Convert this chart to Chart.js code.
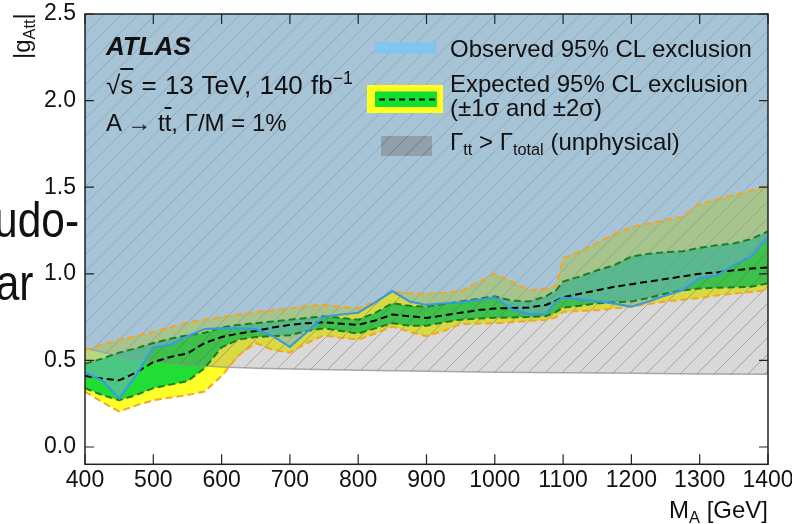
<!DOCTYPE html>
<html><head><meta charset="utf-8">
<script src="https://cdn.jsdelivr.net/npm/chart.js@4.4.1/dist/chart.umd.min.js"></script>
<style>
html,body{margin:0;padding:0;background:#fff;}
#wrap{position:relative;width:792px;height:524px;overflow:hidden;font-family:"Liberation Sans",Arial,Helvetica,sans-serif;color:#111;}
canvas{position:absolute;left:0;top:0;}
.t{position:absolute;white-space:nowrap;line-height:1;}
sub{font-size:0.68em;vertical-align:-0.28em;line-height:0;}
sup{font-size:0.68em;vertical-align:0.55em;line-height:0;}
.ov{text-decoration:overline;}
#udo,#ar{transform:scaleX(0.85);transform-origin:100% 50%;}
</style></head><body>
<div id="wrap">
<canvas id="c" width="792" height="524"></canvas>
<div class="t" id="atlas" style="font-weight:bold;font-style:italic">ATLAS</div>
<div class="t" id="sqs" style="word-spacing:1px">√<span class="ov">s</span> = 13 TeV, 140 fb<sup>−1</sup></div>
<div class="t" id="proc">A → t<span class="ov">t</span>, Γ/M = 1%</div>
<div class="t" id="lg1">Observed 95% CL exclusion</div>
<div class="t" id="lg2">Expected 95% CL exclusion</div>
<div class="t" id="lg3">(±1σ and ±2σ)</div>
<div class="t" id="lg4">Γ<sub>tt</sub> &gt; Γ<sub>total</sub> (unphysical)</div>
<div class="t" id="ytitle" style="transform-origin:0 0;transform:rotate(-90deg)">|g<sub>Att</sub>|</div>
<div class="t" id="xtitle">M<sub>A</sub> [GeV]</div>
<div class="t" id="udo">udo-</div>
<div class="t" id="ar">ar</div>
</div>
<script>
// ---- data ----
const masses   = [400,425,450,475,500,525,550,575,600,625,650,675,700,725,750,775,800,825,850,875,900,925,950,975,1000,1025,1050,1075,1090,1100,1125,1150,1175,1200,1225,1250,1275,1300,1325,1350,1375,1400];
const observed = [0.43,0.385,0.28,0.415,0.575,0.59,0.64,0.68,0.685,0.685,0.68,0.64,0.578,0.665,0.752,0.765,0.775,0.835,0.90,0.84,0.82,0.83,0.835,0.848,0.864,0.795,0.767,0.768,0.84,0.862,0.852,0.842,0.828,0.81,0.84,0.875,0.905,0.975,0.99,1.05,1.10,1.21];
const expected = [0.41,0.395,0.385,0.43,0.49,0.52,0.54,0.60,0.635,0.655,0.67,0.69,0.705,0.715,0.72,0.712,0.705,0.73,0.765,0.755,0.745,0.76,0.775,0.79,0.80,0.802,0.806,0.82,0.845,0.865,0.885,0.905,0.925,0.94,0.955,0.97,0.985,1.0,1.008,1.02,1.03,1.037];
const plus1    = [0.48,0.51,0.545,0.57,0.60,0.625,0.645,0.66,0.69,0.705,0.715,0.725,0.735,0.745,0.755,0.745,0.735,0.775,0.83,0.815,0.81,0.825,0.84,0.855,0.87,0.845,0.84,0.87,0.905,0.955,0.985,1.02,1.05,1.10,1.115,1.125,1.13,1.15,1.165,1.175,1.20,1.245];
const minus1   = [0.34,0.30,0.27,0.30,0.34,0.36,0.38,0.455,0.575,0.62,0.635,0.64,0.645,0.67,0.685,0.67,0.655,0.685,0.715,0.70,0.70,0.72,0.735,0.742,0.746,0.748,0.75,0.755,0.78,0.805,0.815,0.83,0.835,0.84,0.86,0.885,0.905,0.915,0.92,0.922,0.925,0.945];
const plus2    = [0.56,0.59,0.62,0.64,0.665,0.69,0.72,0.735,0.75,0.765,0.78,0.79,0.80,0.815,0.82,0.81,0.80,0.84,0.895,0.89,0.885,0.89,0.90,0.95,1.0,0.955,0.905,0.915,0.93,1.09,1.13,1.18,1.23,1.27,1.29,1.31,1.33,1.40,1.43,1.455,1.48,1.51];
const minus2   = [0.32,0.26,0.205,0.24,0.27,0.285,0.30,0.32,0.41,0.53,0.60,0.56,0.545,0.60,0.645,0.63,0.62,0.655,0.695,0.665,0.64,0.67,0.71,0.712,0.714,0.72,0.728,0.733,0.75,0.78,0.785,0.79,0.80,0.81,0.825,0.84,0.85,0.86,0.875,0.885,0.895,0.906];
const unphysMass  = [400,450,500,550,600,650,700,800,900,1000,1100,1200,1300,1400];
const unphysLimit = [0.57,0.525,0.495,0.475,0.462,0.455,0.45,0.443,0.437,0.432,0.428,0.425,0.422,0.42];
const xRange = [400, 1400];
const yRange = [-0.1, 2.5];
const xStep = 100, yStep = 0.5;

const FONT = '"Liberation Sans", Arial, Helvetica, sans-serif';
const pts = (xs, ys) => xs.map((x, i) => ({x: x, y: ys[i]}));
const ctx0 = document.getElementById('c').getContext('2d');

function makeHatch(color, s, lw) {
  const c = document.createElement('canvas'); c.width = s; c.height = s;
  const g = c.getContext('2d'); g.strokeStyle = color; g.lineWidth = lw;
  g.beginPath();
  g.moveTo(0, s); g.lineTo(s, 0);
  g.moveTo(-s/2, s/2); g.lineTo(s/2, -s/2);
  g.moveTo(s/2, s*1.5); g.lineTo(s*1.5, s/2);
  g.stroke();
  return ctx0.createPattern(c, 'repeat');
}
const hatch = makeHatch('rgba(90,90,90,0.4)', 17, 1);

const C_OBS_LINE = '#3a9ade', C_ORANGE = '#f5a524', C_DGREEN = '#1d7d1d';
const C_GREEN = '#22dd33', C_YELLOW = '#ffff2a';

const dashed = (lbl, data, color, order) => ({label: lbl, data: data, borderColor: color, borderWidth: 2, borderDash: [7, 4], fill: false, pointRadius: 0, order: order});

const datasets = [
  {label: 'Observed', data: pts(masses, observed), borderColor: C_OBS_LINE, borderWidth: 2.2, fill: false, pointRadius: 0, order: 0},
  dashed('Expected', pts(masses, expected), '#000', 1),
  dashed('+1sigma', pts(masses, plus1), C_DGREEN, 2),
  dashed('-1sigma', pts(masses, minus1), C_DGREEN, 2),
  dashed('+2sigma', pts(masses, plus2), C_ORANGE, 3),
  dashed('-2sigma', pts(masses, minus2), C_ORANGE, 3),
  {label: 'obsFill', data: pts(masses, observed), borderWidth: 0, backgroundColor: 'rgba(117,175,211,0.5)', fill: 'end', pointRadius: 0, order: 6},
  {label: 'hatch', data: pts(unphysMass, unphysLimit), borderWidth: 0, backgroundColor: hatch, fill: 'end', pointRadius: 0, order: 7},
  {label: 'unphys', data: pts(unphysMass, unphysLimit), borderColor: 'rgba(140,140,140,0.7)', borderWidth: 1.5, backgroundColor: 'rgba(128,128,128,0.3)', fill: 'end', pointRadius: 0, order: 8},
  {label: 'band1', data: pts(masses, plus1), borderWidth: 0, backgroundColor: C_GREEN, fill: 3, pointRadius: 0, order: 9},
  {label: 'band2', data: pts(masses, plus2), borderWidth: 0, backgroundColor: C_YELLOW, fill: 5, pointRadius: 0, order: 10}
];

const framePlugin = {
  id: 'frame',
  afterDatasetsDraw(chart) {
    const {ctx, chartArea: a, scales: {x, y}} = chart;
    ctx.save();
    ctx.strokeStyle = '#222'; ctx.lineWidth = 1.5;
    ctx.strokeRect(a.left, a.top, a.right - a.left, a.bottom - a.top);
    ctx.lineWidth = 1.2;
    ctx.beginPath();
    x.ticks.forEach(t => { const p = x.getPixelForValue(t.value);
      ctx.moveTo(p, a.bottom); ctx.lineTo(p, a.bottom - 10);
      ctx.moveTo(p, a.top); ctx.lineTo(p, a.top + 10); });
    y.ticks.forEach(t => { const p = y.getPixelForValue(t.value);
      ctx.moveTo(a.left, p); ctx.lineTo(a.left + 9, p);
      ctx.moveTo(a.right, p); ctx.lineTo(a.right - 9, p); });
    ctx.stroke();
    ctx.restore();
  },
  afterDraw(chart) {
    const ctx = chart.ctx;
    ctx.save();
    // legend swatches
    ctx.fillStyle = '#80c6ee'; ctx.fillRect(375, 42, 62, 12);
    ctx.fillStyle = '#ffff20'; ctx.fillRect(367, 85, 76, 28);
    ctx.fillStyle = '#10e030'; ctx.fillRect(375, 91.5, 62, 15.5);
    ctx.strokeStyle = '#000'; ctx.lineWidth = 2; ctx.setLineDash([6, 4]);
    ctx.beginPath(); ctx.moveTo(379, 99.5); ctx.lineTo(436, 99.5); ctx.stroke();
    ctx.setLineDash([]);
    ctx.fillStyle = 'rgba(120,120,120,0.45)'; ctx.fillRect(381, 136, 51, 20);
    ctx.fillStyle = hatch; ctx.fillRect(381, 136, 51, 20);
    ctx.restore();
  }
};

new Chart(document.getElementById('c'), {
  type: 'line',
  data: {datasets: datasets},
  plugins: [framePlugin],
  options: {
    responsive: false,
    animation: false,
    devicePixelRatio: 1,
    layout: {padding: {top: 14, right: 24, left: 0, bottom: 0}},
    elements: {line: {tension: 0}, point: {radius: 0}},
    plugins: {legend: {display: false}, tooltip: {enabled: false}, filler: {propagate: false}},
    scales: {
      x: {
        type: 'linear', min: xRange[0], max: xRange[1],
        grid: {display: false, drawTicks: false}, border: {display: false},
        ticks: {stepSize: xStep, callback: v => String(v), font: {size: 23, family: FONT}, color: '#111', padding: 3, maxRotation: 0, autoSkip: false},
        afterFit(s) { s.height = 59.7; s.paddingLeft = 0; s.paddingRight = 0; }
      },
      y: {
        type: 'linear', min: yRange[0], max: yRange[1],
        grid: {display: false, drawTicks: false}, border: {display: false},
        ticks: {stepSize: yStep, includeBounds: false, callback: v => Number(v).toFixed(1), font: {size: 23, family: FONT}, color: '#111', padding: 9},
        afterFit(s) { s.width = 85; s.paddingTop = 0; s.paddingBottom = 0; }
      }
    }
  }
});

// ---- text placement ----
function place(id, left, baseline, size, rightEdge) {
  const el = document.getElementById(id);
  el.style.fontSize = size + 'px';
  el.style.top = (baseline - 0.8465 * size) + 'px';
  if (rightEdge !== undefined) el.style.right = (792 - rightEdge) + 'px';
  else el.style.left = left + 'px';
}
place('atlas', 106, 55, 26);
place('sqs', 106, 94, 26);
place('proc', 106, 131, 24);
place('lg1', 450, 57, 24);
place('lg2', 450, 92.5, 24);
place('lg3', 450, 116.5, 24);
place('lg4', 450, 150, 24);
place('xtitle', 0, 518, 24, 768);
place('udo', 0, 237, 50, 79);
place('ar', 0, 300, 50, 33);
const yt = document.getElementById('ytitle');
yt.style.fontSize = '24px';
yt.style.left = '10px';
yt.style.top = (13 + yt.offsetWidth) + 'px';
</script>
</body></html>
